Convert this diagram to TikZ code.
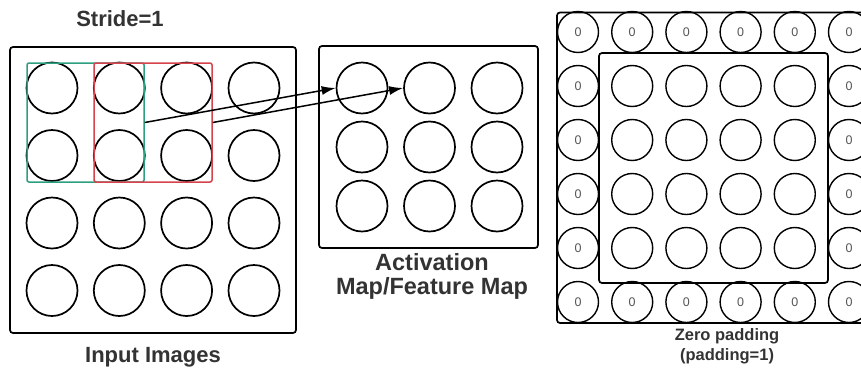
\documentclass[tikz,border=0pt]{standalone}
\usepackage{fontspec}
\setmainfont{Liberation Sans}
\usetikzlibrary{arrows.meta}
\definecolor{winGreen}{HTML}{2E9E80}
\definecolor{winRed}{HTML}{D6434C}
\definecolor{labelGray}{HTML}{333333}
\definecolor{zeroGray}{HTML}{555555}

\begin{document}
\begin{tikzpicture}[x=1pt,y=-1pt,
  cell/.style={circle,draw=black,line width=1.7pt,minimum size=51pt,inner sep=0pt},
  padcell/.style={circle,draw=black,line width=1.4pt,minimum size=41pt,inner sep=0pt,
    font=\fontsize{12.5}{12.5}\selectfont,text=zeroGray},
  panel/.style={rectangle,draw=black,line width=1.7pt,rounded corners=3pt,inner sep=0pt},
  window/.style={rectangle,line width=1.5pt,rounded corners=2pt,inner sep=0pt,
    minimum height=119pt},
  title/.style={font=\bfseries\fontsize{22}{24}\selectfont,text=labelGray,align=center},
  subtitle/.style={font=\bfseries\fontsize{16.5}{20}\selectfont,text=labelGray,align=center},
  link/.style={line width=1.5pt,-{Latex[length=14pt,width=9pt]}}]

\useasboundingbox (0,0) rectangle (861,370);
\clip (0,0) rectangle (861,370);

% ---------- input image (4x4) ----------
\node[panel,minimum width=286pt,minimum height=286pt] (inbox) at (153,190) {};
\foreach \r/\y in {1/88,2/155.5,3/223,4/290.5}
  \foreach \c/\x in {1/52,2/119.3,3/186.6,4/254}
    \node[cell] (in\r\c) at (\x,\y) {};

% sliding 2x2 windows
\node[window,draw=winGreen,minimum width=117pt] (wgreen) at (85.5,122.5) {};
\node[window,draw=winRed,minimum width=118pt] (wred) at (153,122.5) {};

\node[title] (stride) at (120,19) {Stride=1};
\node[title] (inlabel) at (153,357) {Input Images};

% ---------- activation map (3x3) ----------
\node[panel,minimum width=219pt,minimum height=202pt] (actbox) at (428.5,147) {};
\foreach \r/\y in {1/88,2/147,3/206}
  \foreach \c/\x in {1/362,2/429.5,3/497}
    \node[cell] (act\r\c) at (\x,\y) {};

\node[title,font=\bfseries\fontsize{23.5}{24}\selectfont] (actlabel) at (432,276)
  {Activation\\Map/Feature Map};

% each window maps to one activation cell
\draw[link] (wgreen.east) -- (act11.west);
\draw[link] (wred.east) -- (act12.west);

% ---------- zero padded input (6x6) ----------
\node[panel,minimum width=330pt,minimum height=310.5pt] (padbox) at (722,167.75) {};
\node[panel,minimum width=229pt,minimum height=230pt] (corebox) at (713.5,168) {};
\foreach \r/\y in {1/32,2/86,3/140,4/194,5/248,6/302}
  \foreach \c/\x in {1/578,2/632.2,3/686.4,4/740.6,5/794.8,6/849}{
    \ifnum\r=1 \def\z{0}\else\ifnum\r=6 \def\z{0}\else
      \ifnum\c=1 \def\z{0}\else\ifnum\c=6 \def\z{0}\else\def\z{}\fi\fi\fi\fi
    \node[padcell] (pad\r\c) at (\x,\y) {\z};
  }

\node[subtitle] (padlabel) at (727,346) {Zero padding\\(padding=1)};
\end{tikzpicture}
\end{document}
